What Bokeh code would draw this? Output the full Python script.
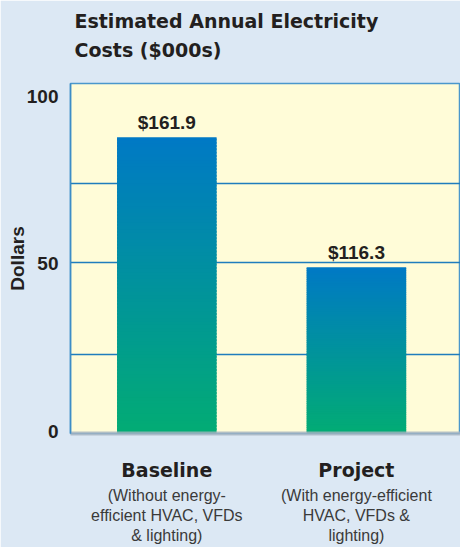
import numpy as np
from bokeh.plotting import figure
from bokeh.models import FixedTicker, LinearAxis, Range1d, Title, ColumnDataSource
from bokeh.core.properties import value
from bokeh.embed import file_html
from bokeh.resources import INLINE

# ---- data ----
title_lines = ["Estimated Annual Electricity", "Costs ($000s)"]
categories = ["Baseline", "Project"]
subtitles = ["(Without energy-\nefficient HVAC, VFDs\n& lighting)",
             "(With energy-efficient\nHVAC, VFDs &\nlighting)"]
bar_heights = [87.8, 49.0]
value_labels = ["$161.9", "$116.3"]
y_ticks = [0, 50, 100]
grid_values = [23, 50.5, 74]
y_label = "Dollars"

# ---- style ----
BG = "#dce8f4"
PLOT_BG = "#fffcd8"
TEXT = "#231f20"
TOP_RGB = np.array([0, 121, 197])
BOT_RGB = np.array([2, 172, 116])
FONT = "Liberation Sans"

xs = [i + 1 for i in range(len(categories))]
bar_w = 0.525

p = figure(width=460, height=547, output_backend="svg", toolbar_location=None,
           x_range=Range1d(0.492, 2.549), y_range=Range1d(-0.6, 103.8),
           min_border_left=70, min_border_right=0, min_border_top=83, min_border_bottom=0)
p.border_fill_color = BG
p.background_fill_color = PLOT_BG
p.outline_line_color = "#4a97cc"
p.outline_line_width = 1.5

# gradient bars built from slices of each bar's own height
n = 90
lefts, rights, bottoms, tops, colors = [], [], [], [], []
for x, h in zip(xs, bar_heights):
    base = -0.6
    for k in range(n):
        t = (k + 0.5) / n
        rgb = BOT_RGB + (TOP_RGB - BOT_RGB) * t
        lefts.append(x - bar_w / 2)
        rights.append(x + bar_w / 2)
        bottoms.append(base + (h - base) * k / n)
        tops.append(min(h, base + (h - base) * (k + 1.6) / n))
        colors.append("#%02x%02x%02x" % tuple(int(round(c)) for c in rgb))
src = ColumnDataSource(dict(left=lefts, right=rights, bottom=bottoms, top=tops, color=colors))
p.quad(left="left", right="right", bottom="bottom", top="top", fill_color="color",
       line_color=None, source=src)

# value labels
p.text(x=xs, y=bar_heights, text=value_labels, text_align="center", text_baseline="alphabetic",
       y_offset=-15, text_font=value(FONT), text_font_style="bold", text_font_size="19px",
       text_color=TEXT)

# grid
p.xgrid.visible = False
p.ygrid.ticker = FixedTicker(ticks=grid_values)
p.ygrid.grid_line_color = "#1f7dbd"
p.ygrid.grid_line_width = 1.3

# y axis
ya = p.yaxis[0]
ya.ticker = FixedTicker(ticks=y_ticks)
ya.major_tick_out = 0
ya.major_tick_in = 0
ya.minor_tick_out = 0
ya.minor_tick_in = 0
ya.axis_line_color = "#3d8dc6"
ya.axis_line_width = 1.5
ya.major_label_standoff = 12
ya.major_label_text_font = FONT
ya.major_label_text_font_style = "bold"
ya.major_label_text_font_size = "19px"
ya.major_label_text_color = TEXT
ya.axis_label = y_label
ya.axis_label_standoff = -4
ya.axis_label_text_font = FONT
ya.axis_label_text_font_style = "bold"
ya.axis_label_text_font_size = "19px"
ya.axis_label_text_color = TEXT

# x axis: category names
xa = p.xaxis[0]
xa.ticker = FixedTicker(ticks=xs)
xa.major_label_overrides = {x: c for x, c in zip(xs, categories)}
xa.major_tick_out = 0
xa.major_tick_in = 0
xa.minor_tick_out = 0
xa.minor_tick_in = 0
xa.axis_line_color = "#a8b4c0"
xa.axis_line_width = 4
xa.axis_line_alpha = 0.8
xa.major_label_standoff = 25
xa.major_label_text_font = "DejaVu Sans"
xa.major_label_text_font_style = "bold"
xa.major_label_text_font_size = "19px"
xa.major_label_text_color = TEXT

# second x axis: descriptions
xa2 = LinearAxis(ticker=FixedTicker(ticks=xs),
                 major_label_overrides={x: s for x, s in zip(xs, subtitles)})
xa2.axis_line_color = None
xa2.major_tick_line_color = None
xa2.minor_tick_line_color = None
xa2.major_tick_out = 0
xa2.major_tick_in = 0
xa2.major_label_standoff = 3
xa2.major_label_text_font = FONT
xa2.major_label_text_font_size = "16px"
xa2.major_label_text_color = "#3a3a3a"
xa2.major_label_text_line_height = 1.2
p.add_layout(xa2, "below")

# titles (closest to frame added first)
for line, standoff in [(title_lines[1], 45), (title_lines[0], -35)]:
    p.add_layout(Title(text=line, align="left", offset=4, text_font="DejaVu Sans",
                       text_font_style="bold", text_font_size="19px", text_color=TEXT,
                       standoff=standoff), "above")

open("out.html", "w").write(file_html(p, INLINE))
